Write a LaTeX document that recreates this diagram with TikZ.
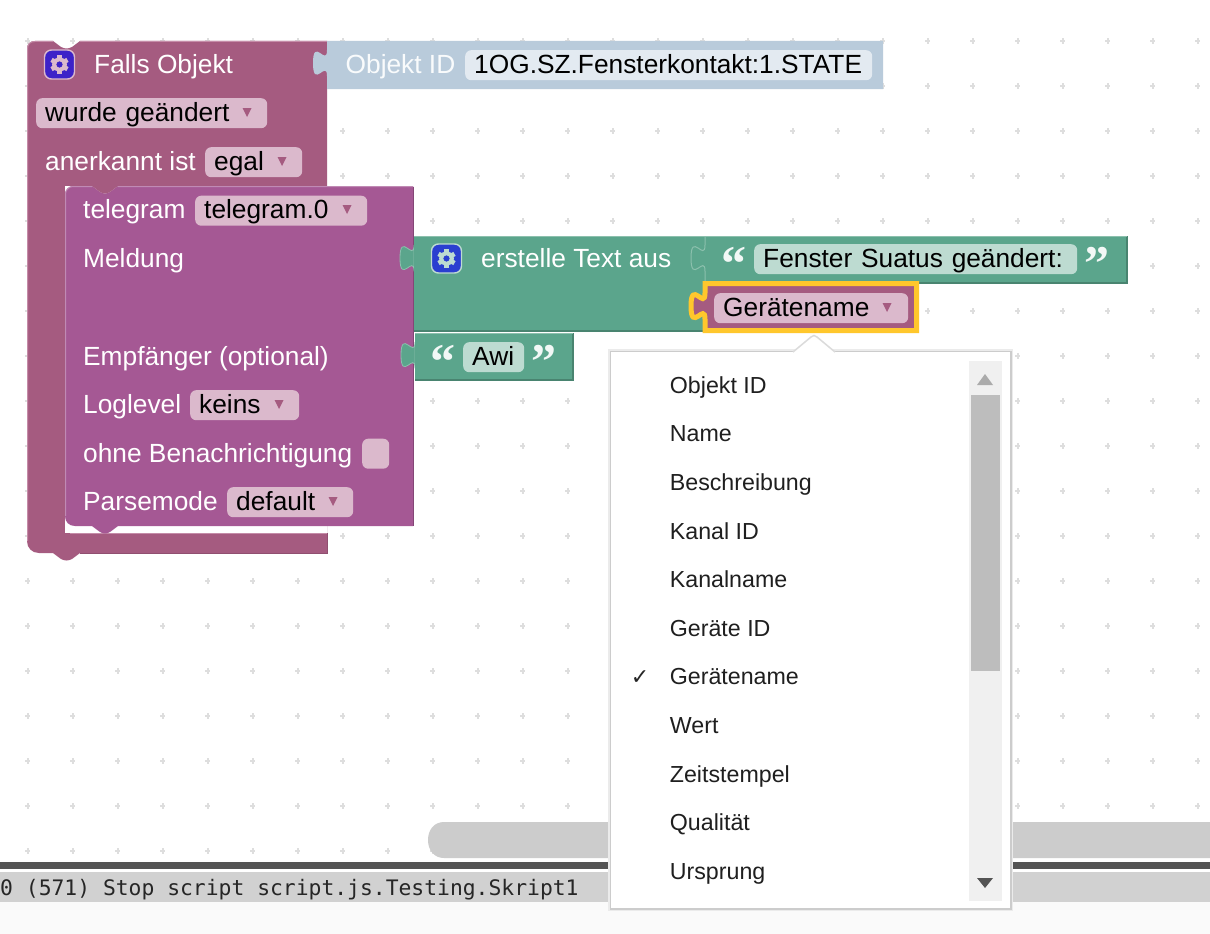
\documentclass[tikz,border=0pt]{standalone}
\usepackage{fontspec}
\setmainfont{Liberation Sans}
\newfontfamily\quotefont{Liberation Serif}
\newfontfamily\logfont{DejaVu Sans Mono}
\newfontfamily\symfont{DejaVu Sans}
\definecolor{eventpink}{HTML}{A55B80}
\definecolor{eventlight}{HTML}{C58CA8}
\definecolor{eventdark}{HTML}{904F70}
\definecolor{pinkfield}{HTML}{DBB9CC}
\definecolor{sendpurple}{HTML}{A55894}
\definecolor{sendlight}{HTML}{C08AB4}
\definecolor{senddark}{HTML}{844676}
\definecolor{textgreen}{HTML}{5BA58C}
\definecolor{greenlight}{HTML}{8CC0AD}
\definecolor{greendark}{HTML}{498470}
\definecolor{greenfield}{HTML}{BDDBD1}
\definecolor{idblue}{HTML}{B9CBDB}
\definecolor{bluefield}{HTML}{E3EAF1}
\definecolor{gearviolet}{HTML}{3D22C8}
\definecolor{gearblue}{HTML}{2A3FD0}
\definecolor{focusyellow}{HTML}{FFC72C}
\definecolor{griddot}{HTML}{DEDEDE}
\newcommand{\puzzletab}[2]{(#1,#2) .. controls (#1,#2+17.5) and (#1-14,#2-14) .. (#1-14,#2+13.1) .. controls (#1-14,#2+40.2) and (#1,#2+8.75) .. (#1,#2+26.25)}
\newcommand{\gearicon}[3]{%
  \draw[#3, line width=4pt] (#1,#2) circle (5.4pt);
  \foreach \a in {30,90,...,330}
    \draw[#3, line width=4.6pt] (#1,#2) ++(\a:6pt) -- ++(\a:3.2pt);
}
\begin{document}
\begin{tikzpicture}[x=1pt,y=-1pt]
\tikzstyle{blocktext} = [anchor=base west, inner sep=0pt, text=white, font=\fontsize{26.3}{28}\selectfont]
\tikzstyle{field} = [anchor=north west, rectangle, rounded corners=6pt, align=left, inner xsep=9pt, inner ysep=3pt, text height=20pt, text depth=4pt, text=black, font=\fontsize{26.3}{28}\selectfont]
\tikzstyle{quotemark} = [inner sep=0pt, text=white!92!textgreen, font=\quotefont\bfseries\fontsize{50}{50}\selectfont]
\tikzstyle{iconbox} = [rectangle, rounded corners=7pt, minimum width=30pt, minimum height=29pt, line width=1.4pt]
\tikzstyle{menuitem} = [anchor=base west, inner sep=0pt, text=black!88, font=\fontsize{23.2}{25}\selectfont]
\useasboundingbox (0,0) rectangle (1210,934);
\fill[white] (0,0) rectangle (1210,934);
% grid
\foreach \gx in {0,...,26}
  \foreach \gy in {0,...,18}
    \draw[griddot, line width=1.6pt] (27.7+45*\gx-2.6,41+45*\gy) -- ++(5.2,0) (27.7+45*\gx,41+45*\gy-2.6) -- ++(0,5.2);
% bottom bars
\fill[black!20] (1210,822) -- (444,822) .. controls (434,822) and (428,830) .. (428,840) .. controls (428,850) and (434,858) .. (444,858) -- (1210,858) -- cycle;
\fill[black!67] (0,862) rectangle (1210,869);
\fill[black!18] (0,872) rectangle (1210,902);
\fill[black!2] (0,902) rectangle (1210,934);
\node (logline)[anchor=base west, inner sep=0pt, text=black!85, font=\logfont\fontsize{21.35}{23}\selectfont] at (0,895) {0 (571) Stop script script.js.Testing.Skript1};
% outer block
\fill[eventpink] (27,49) .. controls (27,44) and (30,41) .. (35,41) -- (53,41) -- (61,47) .. controls (65,49) and (68,49) .. (72,47) -- (80,41) -- (327,41) -- (327,533) -- (327,553) -- (80,553) -- (72,559) .. controls (68,561) and (65,561) .. (61,559) -- (53,553) -- (39,553) .. controls (32,553) and (27,548) .. (27,541) -- cycle;
\fill[white] (65,186) rectangle (327,533);
\draw[eventlight, line width=1pt] (27.5,541) -- (27.5,49) .. controls (27.5,44) and (30,41.5) .. (35,41.5) -- (53,41.5) (80,41.5) -- (327,41.5);
\draw[eventlight, line width=1pt] (70,533.5) -- (327,533.5);
\draw[eventdark, line width=1pt] (327,533) -- (327,553) -- (80,553);
% object id
\fill[idblue] \puzzletab{327}{50} -- (327,89) -- (883,89) -- (883,41) -- (327,41) -- cycle;
\node (idlabel)[blocktext, text=white!92!idblue] at (345.5,73.7) {Objekt ID};
\node (idfield)[field, fill=bluefield, text width=389pt] at (465,50) {1OG.SZ.Fensterkontakt:1.STATE};
% send block
\fill[sendpurple] (65,194) .. controls (65,190) and (69,186) .. (73,186) -- (92,186) -- (100,192) .. controls (103,194) and (107,194) .. (110,192) -- (118,186) -- (413,186) -- (413,526) -- (118,526) -- (110,532) .. controls (107,534) and (103,534) .. (100,532) -- (92,526) -- (75,526) .. controls (69,526) and (65,522) .. (65,516) -- cycle;
\fill[eventpink] (92,186) -- (100,192) .. controls (103,194) and (107,194) .. (110,192) -- (118,186) -- cycle;
\draw[sendlight, line width=1pt] (65.5,516) -- (65.5,194) .. controls (65.5,190) and (69,186.5) .. (73,186.5) -- (92,186.5) (118,186.5) -- (413,186.5);
\draw[senddark, line width=1pt] (413,187) -- (413,526);
% text join block
\filldraw[textgreen, draw=greenlight, line width=.8pt] \puzzletab{414}{245} -- cycle;
\fill[textgreen] (414,236) rectangle (705,331);
\draw[greendark, line width=1.4pt] (414,331) -- (705,331);
\draw[greenlight, line width=1pt] (414,236.5) -- (705,236.5);
% fenster text
\fill[textgreen] (705,236) rectangle (1127,283);
\draw[greendark, line width=1.4pt] (705,283) -- (1127,283) -- (1127,236);
\draw[greenlight, line width=1pt] (705,236) -- \puzzletab{705}{245} -- (705,283);
\draw[greenlight, line width=1pt] (705,236.5) -- (1127,236.5);
\node (fensteropen)[quotemark] at (734,264) {“};
\node (fensterfield)[field, fill=greenfield, text width=305pt] at (754,244) {Fenster Suatus geändert:};
\node (fensterclose)[quotemark] at (1097,264) {”};
% awi
\filldraw[textgreen, draw=greenlight, line width=.8pt] \puzzletab{415}{342} -- cycle;
\fill[textgreen] (415,333) rectangle (573,380);
\draw[greendark, line width=1.4pt] (415,380) -- (573,380) -- (573,333);
\draw[greenlight, line width=1pt] (415,333.5) -- (573,333.5);
\node (awiopen)[quotemark] at (443,362) {“};
\node (awifield)[field, fill=greenfield, text width=43pt] at (463,342) {Awi};
\node (awiclose)[quotemark] at (544,362) {”};
% geraetename
\filldraw[eventpink, draw=focusyellow, line width=5pt] \puzzletab{705}{293} -- (705,330.5) -- (916.5,330.5) -- (916.5,283.5) -- (705,283.5) -- cycle;
\node (namefield)[field, fill=pinkfield, text width=176pt] at (714,293) {Gerätename};
% labels
\node (iconobj)[iconbox, fill=gearviolet, draw=pinkfield] at (59.5,64.5) {};
\gearicon{59.5}{64.5}{pinkfield}
\node (falls)[blocktext] at (94,73.7) {Falls Objekt};
\node (wurde)[field, fill=pinkfield, text width=213pt] at (36,98) {wurde geändert};
\node (anerkannt)[blocktext] at (45,170) {anerkannt ist};
\node (egal)[field, fill=pinkfield, text width=79pt] at (205,147) {egal};
\node (telegram)[blocktext] at (83,218.7) {telegram};
\node (instance)[field, fill=pinkfield, text width=154pt] at (195,195.5) {telegram.0};
\node (meldung)[blocktext] at (83,267.2) {Meldung};
\node (empf)[blocktext] at (83,365.2) {Empfänger (optional)};
\node (loglevel)[blocktext] at (83,413) {Loglevel};
\node (keins)[field, fill=pinkfield, text width=91pt] at (190,390) {keins};
\node (ohne)[blocktext] at (83,462.2) {ohne Benachrichtigung};
\node (check)[field, fill=pinkfield, text width=9pt] at (362,438.5) {};
\node (parse)[blocktext] at (83,510) {Parsemode};
\node (default)[field, fill=pinkfield, text width=108pt] at (227,487) {default};
\node (icontext)[iconbox, fill=gearblue, draw=greenfield] at (446.5,258.5) {};
\gearicon{446.5}{258.5}{greenfield}
\node (erstelle)[blocktext] at (481,267.2) {erstelle Text aus};
% dropdown triangles
\foreach \tx/\ty in {247/113,282/162,347/210,279/405,333/502,887/308}
  \fill[eventpink] (\tx-4.5,\ty-5) -- (\tx+4.5,\ty-5) -- (\tx,\ty+4) -- cycle;
% menu
\fill[black!8] (608,349) rectangle (1013,911);
\draw[black!20, line width=2pt] (610.5,351.5) rectangle (1010.5,908.5);
\fill[white] (611,352) rectangle (1010,908);
\filldraw[white, draw=black!14, line width=1.5pt] (793,352) -- (811,337) .. controls (813,335) and (815,335) .. (817,337) -- (835,352);
\fill[white] (796,352) -- (813,338) -- (815,338) -- (832,352) -- (832,354) -- (796,354) -- cycle;
\foreach \label [count=\i from 0] in {Objekt ID,Name,Beschreibung,Kanal ID,Kanalname,Geräte ID,Gerätename,Wert,Zeitstempel,Qualität,Ursprung}
  \node (item\i)[menuitem] at (669.7,393.2+48.6*\i) {\label};
\node (tick)[inner sep=0pt, text=black!85, font=\symfont\bfseries\fontsize{22}{24}\selectfont] at (640,678) {✓};
\fill[black!6] (969,361) rectangle (1002,901);
\fill[black!26] (971,395) rectangle (1000,671);
\fill[black!33] (985,374) -- (993,385) -- (977,385) -- cycle;
\fill[black!67] (977,878) -- (993,878) -- (985,888) -- cycle;
\end{tikzpicture}
\end{document}
